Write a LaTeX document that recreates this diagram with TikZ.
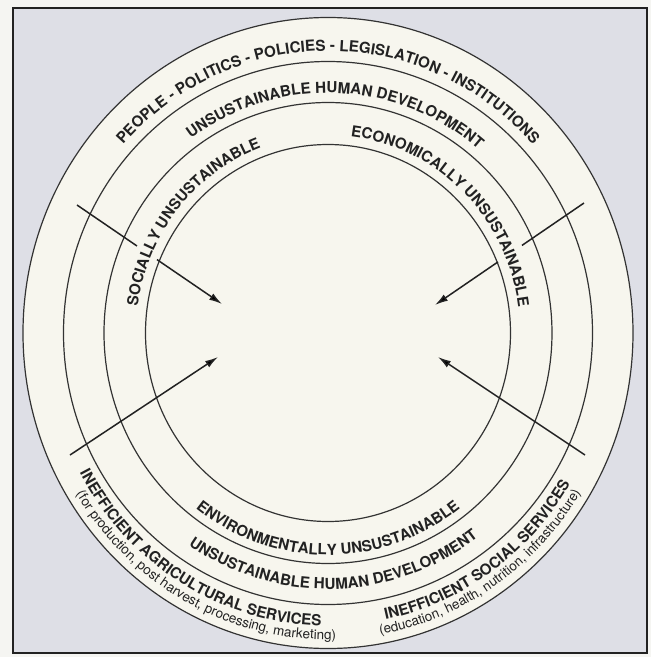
\documentclass[tikz,border=0pt]{standalone}
\usepackage{fontspec}
\setmainfont{TeX Gyre Heros}
\usetikzlibrary{decorations.text,arrows.meta}
\definecolor{pagebg}{HTML}{F5F5F2}
\definecolor{framebg}{HTML}{DEDFE6}
\definecolor{discbg}{HTML}{F7F6EE}
\definecolor{ink}{HTML}{222222}
\definecolor{ringink}{HTML}{333333}
\newcommand\bigfont{\bfseries\fontsize{15.2}{18}\selectfont}
\newcommand\smallfont{\fontsize{13.5}{15}\selectfont}
\begin{document}
\begin{tikzpicture}[x=1pt,y=1pt,
  ring/.style={draw=ringink,line width=1.2pt},
  arrowline/.style={draw=ink,line width=1.5pt},
  tipped/.style={arrowline,-{Latex[length=13pt,width=7.5pt]}},
  txt/.style={decorate,decoration={text along path,text align=center,text color=ink,text={#1}}}]
\useasboundingbox (-328,-324) rectangle (323,333);
\fill[pagebg] (-328,-324) rectangle (323,333);
\draw[fill=framebg,draw=ink,line width=2.2pt] (-315.3,-320) rectangle (319,325);
% rings
\filldraw[fill=discbg,ring] (0,0) ellipse [x radius=305,y radius=315.5];
\draw[ring] (0,0) ellipse [x radius=264.5,y radius=271.5];
\draw[ring] (0,0) ellipse [x radius=224,y radius=230.5];
\draw[ring] (0,0) ellipse [x radius=182.5,y radius=188.5];
% top texts (clockwise)
\path[txt={|\bigfont|PEOPLE - POLITICS - POLICIES - LEGISLATION - INSTITUTIONS}]
  (175:275 and 282) arc[start angle=175,end angle=5,x radius=275,y radius=282];
\path[txt={|\bigfont|UNSUSTAINABLE HUMAN DEVELOPMENT}]
  (168:233.5 and 240) arc[start angle=168,end angle=8,x radius=233.5,y radius=240];
\path[txt={|\bigfont|SOCIALLY UNSUSTAINABLE}]
  (210.8:192 and 198) arc[start angle=210.8,end angle=70.8,x radius=192,y radius=198];
\path[txt={|\bigfont|ECONOMICALLY UNSUSTAINABLE}]
  (125.9:192 and 198) arc[start angle=125.9,end angle=-34.1,x radius=192,y radius=198];
% bottom texts (counter-clockwise)
\path[txt={|\bigfont|ENVIRONMENTALLY UNSUSTAINABLE}]
  (200:215.5 and 222) arc[start angle=200,end angle=340,x radius=215.5,y radius=222];
\path[txt={|\bigfont|UNSUSTAINABLE HUMAN DEVELOPMENT}]
  (196.5:249 and 256) arc[start angle=196.5,end angle=346.5,x radius=249,y radius=256];
\path[txt={|\bigfont|INEFFICIENT AGRICULTURAL SERVICES}]
  (179:282.5 and 293) arc[start angle=179,end angle=299,x radius=282.5,y radius=293];
\path[txt={|\smallfont|(for production, post harvest, processing, marketing)}]
  (182:296 and 306.5) arc[start angle=182,end angle=302,x radius=296,y radius=306.5];
\path[txt={|\bigfont|INEFFICIENT SOCIAL SERVICES}]
  (255:282.5 and 293) arc[start angle=255,end angle=355,x radius=282.5,y radius=293];
\path[txt={|\smallfont|(education, health, nutrition, infrastructure)}]
  (254:296 and 306.5) arc[start angle=254,end angle=354,x radius=296,y radius=306.5];
% arrows
\coordinate (ul1) at (-251,128);
\coordinate (ul2) at (-191,87);
\coordinate (ul3) at (-171,73.4);
\coordinate (ul4) at (-106,29);
\coordinate (ur1) at (256,130);
\coordinate (ur2) at (194,87.6);
\coordinate (ur3) at (170,71.1);
\coordinate (ur4) at (107,28);
\coordinate (ll1) at (-258,-122);
\coordinate (ll2) at (-110,-24);
\coordinate (lr1) at (257,-122);
\coordinate (lr2) at (110,-24);
\draw[arrowline] (ul1) -- (ul2);
\draw[tipped] (ul3) -- (ul4);
\draw[arrowline] (ur1) -- (ur2);
\draw[tipped] (ur3) -- (ur4);
\draw[tipped] (ll1) -- (ll2);
\draw[tipped] (lr1) -- (lr2);
\end{tikzpicture}
\end{document}
